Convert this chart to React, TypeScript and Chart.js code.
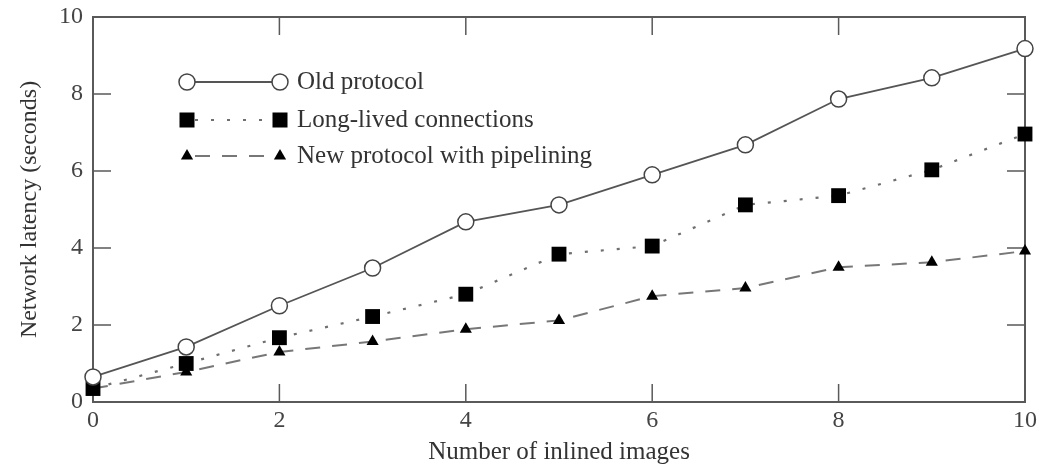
import React, { useEffect, useRef } from "react";
import { Chart, registerables } from "chart.js";

Chart.register(...registerables);

const images = [0, 1, 2, 3, 4, 5, 6, 7, 8, 9, 10];
const oldProtocol = [0.65, 1.43, 2.5, 3.48, 4.68, 5.12, 5.9, 6.68, 7.87, 8.42, 9.18];
const longLived = [0.35, 1.0, 1.67, 2.22, 2.8, 3.84, 4.05, 5.12, 5.36, 6.03, 6.96];
const pipelining = [0.35, 0.78, 1.3, 1.57, 1.89, 2.12, 2.75, 2.96, 3.5, 3.63, 3.92];
const tickValues = [0, 2, 4, 6, 8, 10];
const seriesNames = ["Old protocol", "Long-lived connections", "New protocol with pipelining"];

const SERIF = "'Liberation Serif', 'Times New Roman', serif";
const AXIS_COLOR = "#5a5a5a";
const LINE_COLOR = "#555555";
const TEXT_COLOR = "#333333";

function drawMarker(ctx: CanvasRenderingContext2D, style: string, x: number, y: number) {
  ctx.save();
  ctx.setLineDash([]);
  if (style === "circle") {
    ctx.beginPath();
    ctx.arc(x, y, 8, 0, Math.PI * 2);
    ctx.fillStyle = "#ffffff";
    ctx.fill();
    ctx.strokeStyle = "#444444";
    ctx.lineWidth = 1.5;
    ctx.stroke();
  } else if (style === "rect") {
    ctx.fillStyle = "#000000";
    ctx.fillRect(x - 7.5, y - 7.5, 15, 15);
  } else {
    ctx.fillStyle = "#000000";
    ctx.beginPath();
    ctx.moveTo(x, y - 7);
    ctx.lineTo(x + 6.1, y + 3.5);
    ctx.lineTo(x - 6.1, y + 3.5);
    ctx.closePath();
    ctx.fill();
  }
  ctx.restore();
}

const framePlugin = {
  id: "frame",
  beforeDatasetsDraw(chart: any) {
    const { ctx, chartArea } = chart;
    const { left, right, top, bottom } = chartArea;
    const xs = chart.scales.x;
    const ys = chart.scales.y;
    const tl = 18;
    ctx.save();
    ctx.strokeStyle = AXIS_COLOR;
    ctx.lineWidth = 2;
    ctx.strokeRect(left, top, right - left, bottom - top);
    ctx.lineWidth = 1.5;
    ctx.beginPath();
    for (const v of tickValues) {
      const px = xs.getPixelForValue(v);
      ctx.moveTo(px, bottom);
      ctx.lineTo(px, bottom - tl);
      ctx.moveTo(px, top);
      ctx.lineTo(px, top + tl);
      const py = ys.getPixelForValue(v);
      ctx.moveTo(left, py);
      ctx.lineTo(left + tl, py);
      ctx.moveTo(right, py);
      ctx.lineTo(right - tl, py);
    }
    ctx.stroke();
    ctx.restore();
  },
  afterDraw(chart: any) {
    const { ctx } = chart;
    const x1 = 187;
    const x2 = 280;
    const tx = 297;
    const rows = [82, 120, 156];
    ctx.save();
    chart.data.datasets.forEach((ds: any, i: number) => {
      const y = rows[i];
      ctx.strokeStyle = ds.borderColor;
      ctx.lineWidth = ds.borderWidth;
      ctx.setLineDash(ds.borderDash || []);
      ctx.beginPath();
      ctx.moveTo(x1 + 8, y);
      ctx.lineTo(x2 - 8, y);
      ctx.stroke();
      ctx.setLineDash([]);
      drawMarker(ctx, ds.pointStyle, x1, y);
      drawMarker(ctx, ds.pointStyle, x2, y);
      ctx.fillStyle = TEXT_COLOR;
      ctx.font = `25px ${SERIF}`;
      ctx.textBaseline = "middle";
      ctx.textAlign = "left";
      ctx.fillText(ds.label, tx, y);
    });
    ctx.restore();
  },
};

export default function App() {
  const ref = useRef<HTMLCanvasElement>(null);
  useEffect(() => {
    if (!ref.current) return;
    const mk = (ys: number[]) => images.map((x, i) => ({ x, y: ys[i] }));
    const chart = new Chart(ref.current, {
      type: "line",
      data: {
        datasets: [
          {
            label: seriesNames[0],
            data: mk(oldProtocol),
            borderColor: LINE_COLOR,
            borderWidth: 1.8,
            pointStyle: "circle",
            pointRadius: 8,
            pointBorderWidth: 1.5,
            pointBackgroundColor: "#ffffff",
            pointBorderColor: "#444444",
            clip: false,
          } as any,
          {
            label: seriesNames[1],
            data: mk(longLived),
            borderColor: "#6f6f6f",
            borderWidth: 2.2,
            borderDash: [3, 13],
            pointStyle: "rect",
            pointRadius: 10.5,
            pointBorderWidth: 0,
            pointBackgroundColor: "#000000",
            pointBorderColor: "#000000",
            clip: false,
          } as any,
          {
            label: seriesNames[2],
            data: mk(pipelining),
            borderColor: "#777777",
            borderWidth: 2,
            borderDash: [15, 12],
            pointStyle: "triangle",
            pointRadius: 7,
            pointBorderWidth: 0,
            pointBackgroundColor: "#000000",
            pointBorderColor: "#000000",
            clip: false,
          } as any,
        ],
      },
      options: {
        animation: false,
        responsive: false,
        layout: { padding: { top: 17, right: 15, left: 0, bottom: 0 } },
        plugins: { legend: { display: false }, tooltip: { enabled: false } },
        elements: { line: { tension: 0 } },
        scales: {
          x: {
            type: "linear",
            min: 0,
            max: 10,
            grid: { display: false, drawTicks: false },
            border: { display: false },
            ticks: {
              stepSize: 2,
              color: "#444444",
              padding: 4,
              font: { family: SERIF, size: 24 },
            },
            title: {
              display: true,
              text: "Number of inlined images",
              color: TEXT_COLOR,
              font: { family: SERIF, size: 25, lineHeight: 1 },
              padding: { top: 0, bottom: 0 },
            },
            afterFit: (s: any) => {
              s.height = 63;
              s.paddingLeft = 0;
              s.paddingRight = 0;
            },
          },
          y: {
            type: "linear",
            min: 0,
            max: 10,
            grid: { display: false, drawTicks: false },
            border: { display: false },
            ticks: {
              stepSize: 2,
              color: "#444444",
              padding: 10,
              font: { family: SERIF, size: 24 },
            },
            title: {
              display: true,
              text: "Network latency (seconds)",
              color: TEXT_COLOR,
              font: { family: SERIF, size: 24, lineHeight: 1 },
              padding: { top: 18, bottom: 0 },
            },
            afterFit: (s: any) => {
              s.width = 93;
              s.paddingTop = 0;
              s.paddingBottom = 0;
            },
          },
        },
      },
      plugins: [framePlugin],
    });
    return () => chart.destroy();
  }, []);
  return (
    <div style={{ position: "absolute", left: 0, top: 0, width: 1040, height: 465, background: "#fff" }}>
      <canvas ref={ref} width={1040} height={465} />
    </div>
  );
}
